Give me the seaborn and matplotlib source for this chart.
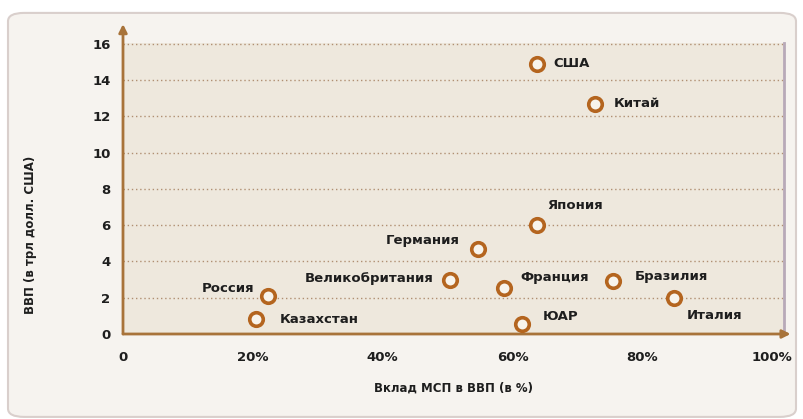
import seaborn as sns
import matplotlib.pyplot as plt
import pandas as pd
from matplotlib.patches import FancyBboxPatch

# data
countries = ["США", "Китай", "Япония", "Германия", "Великобритания", "Франция",
             "Бразилия", "Италия", "ЮАР", "Россия", "Казахстан"]
sme_share = [63.8, 72.7, 63.8, 54.7, 50.4, 58.7, 75.5, 84.9, 61.5, 22.3, 20.5]
gdp = [14.9, 12.7, 6.0, 4.7, 3.0, 2.55, 2.9, 2.0, 0.55, 2.1, 0.8]
x_ticks = [0, 20, 40, 60, 80, 100]
x_tick_labels = ["0", "20%", "40%", "60%", "80%", "100%"]
y_ticks = [0, 2, 4, 6, 8, 10, 12, 14, 16]

df = pd.DataFrame({"country": countries, "share": sme_share, "gdp": gdp})

# label placement (pixels from the marker, alignment)
label_pos = {
    "США": (16, 0, "left"), "Китай": (19, 0, "left"), "Япония": (10, 20, "left"),
    "Германия": (-18, 8, "right"), "Великобритания": (-17, 1, "right"),
    "Франция": (16, 10, "left"), "Бразилия": (22, 5, "left"),
    "Италия": (12, -18, "left"), "ЮАР": (20, 8, "left"),
    "Россия": (-13, 7, "right"), "Казахстан": (24, 0, "left"),
}

brown = "#a8733a"
text_col = "#1e1e1e"
sns.set_style("white")
plt.rcParams["font.family"] = ["DejaVu Sans"]

fig = plt.figure(figsize=(8.04, 4.19), dpi=100)
fig.patch.set_facecolor("white")
panel = FancyBboxPatch((8 / 804, 0.005), 788 / 804, 404 / 419,
                       boxstyle="round,pad=0,rounding_size=0.02",
                       transform=fig.transFigure, facecolor="#f6f3ef",
                       edgecolor="#d9cfcc", linewidth=1.5, zorder=-5)
fig.patches.append(panel)

ax = fig.add_axes([123 / 804, (419 - 334) / 419, 661 / 804, 291 / 419])
ax.set_zorder(2)
ax.set_facecolor("#eee8dd")

sns.scatterplot(data=df, x="share", y="gdp", ax=ax, marker="o", s=95,
                facecolor="#f8f4ec", edgecolor="#b4651f", linewidth=2.6,
                zorder=5, clip_on=False)

for c, xv, yv in zip(countries, sme_share, gdp):
    dx, dy, ha = label_pos[c]
    ax.annotate(c, (xv, yv), xytext=(dx, dy), textcoords="offset pixels",
                ha=ha, va="center", fontsize=9.5, fontweight="bold",
                color=text_col, zorder=6)

ax.set_xlim(0, 101.8)
ax.set_ylim(0, 16.05)
ax.set_xticks(x_ticks)
ax.set_xticklabels(x_tick_labels)
ax.set_yticks(y_ticks)
ax.tick_params(axis="x", length=0, pad=12, labelsize=9.5, labelcolor=text_col)
ax.tick_params(axis="y", length=0, pad=9, labelsize=9.5, labelcolor=text_col)
for lab in ax.get_xticklabels() + ax.get_yticklabels():
    lab.set_fontweight("bold")

ax.grid(axis="y", linestyle=(0, (1, 2)), color="#b08f72", linewidth=1.0)
ax.grid(axis="x", visible=False)
for sp in ["top", "right", "left", "bottom"]:
    ax.spines[sp].set_visible(False)
ax.spines["right"].set_visible(True)
ax.spines["right"].set_color("#b8a9b8")
ax.spines["right"].set_linewidth(2)

# axis arrows
ax.annotate("", xy=(0, 1.065), xytext=(0, 0), xycoords="axes fraction",
            arrowprops=dict(arrowstyle="-|>", color=brown, lw=2,
                            mutation_scale=12, shrinkA=0, shrinkB=0))
ax.annotate("", xy=(1.01, 0), xytext=(0, 0), xycoords="axes fraction",
            arrowprops=dict(arrowstyle="-|>", color=brown, lw=2,
                            mutation_scale=12, shrinkA=0, shrinkB=0))

ax.set_xlabel("Вклад МСП в ВВП (в %)", fontsize=8.5, fontweight="bold",
              color=text_col)
ax.set_ylabel("ВВП (в трл долл. США)", fontsize=8.5, fontweight="bold",
              color=text_col)
ax.xaxis.set_label_coords(0.5, -0.165)
ax.yaxis.set_label_coords(-0.13, 0.34)

fig.savefig("out.png", dpi=100)
